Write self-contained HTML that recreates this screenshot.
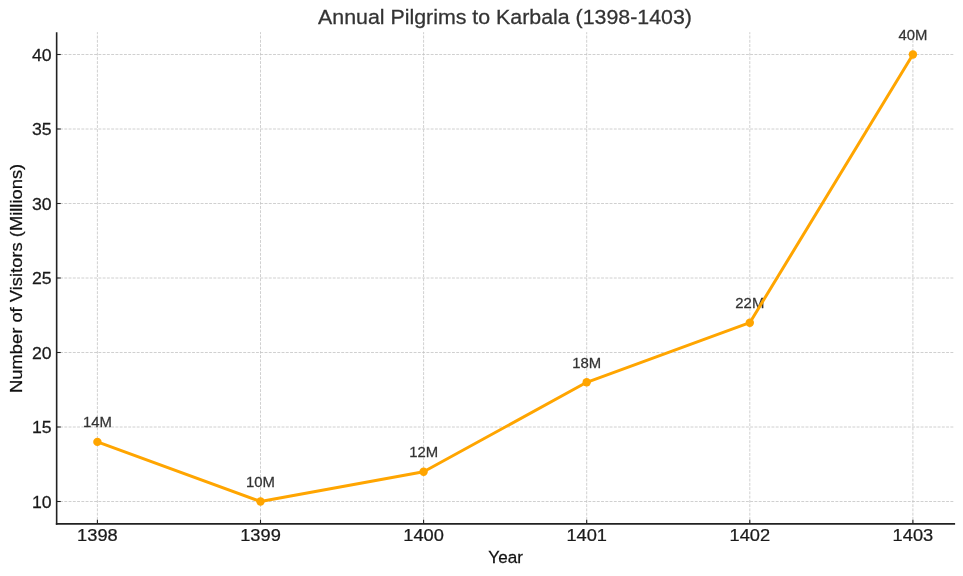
<!DOCTYPE html>
<html><head><meta charset="utf-8"><style>
html,body{margin:0;padding:0;background:#fff;width:963px;height:576px;overflow:hidden}
svg{display:block;will-change:transform}
text{font-family:"Liberation Sans",sans-serif;stroke-width:0.25;paint-order:fill}
.g{stroke:#c0c0c0;stroke-width:0.75;stroke-dasharray:2.9 1.36;stroke-dashoffset:0.85}
.t{stroke:#222;stroke-width:1.1}
.s{stroke:#222;stroke-width:1.6}
.ln{fill:none;stroke:#FFA500;stroke-width:3.0;stroke-linejoin:round;stroke-linecap:round}
.tl{font-size:17px;fill:#1a1a1a;stroke:#1a1a1a}
.an{font-size:14.6px;fill:#333;stroke:#333}
.ti{font-size:19.9px;fill:#333;stroke:#333}
.xl{font-size:17.2px;fill:#111;stroke:#111}
.yl{font-size:16.6px;fill:#111;stroke:#111}
</style></head><body>
<svg width="963" height="576" viewBox="0 0 963 576">
<line x1="97.40" y1="32.15" x2="97.40" y2="523.85" class="g"/>
<line x1="260.50" y1="32.15" x2="260.50" y2="523.85" class="g"/>
<line x1="423.60" y1="32.15" x2="423.60" y2="523.85" class="g"/>
<line x1="586.70" y1="32.15" x2="586.70" y2="523.85" class="g"/>
<line x1="749.80" y1="32.15" x2="749.80" y2="523.85" class="g"/>
<line x1="912.90" y1="32.15" x2="912.90" y2="523.85" class="g"/>
<line x1="56.65" y1="501.50" x2="953.6" y2="501.50" class="g"/>
<line x1="56.65" y1="427.00" x2="953.6" y2="427.00" class="g"/>
<line x1="56.65" y1="352.50" x2="953.6" y2="352.50" class="g"/>
<line x1="56.65" y1="278.00" x2="953.6" y2="278.00" class="g"/>
<line x1="56.65" y1="203.50" x2="953.6" y2="203.50" class="g"/>
<line x1="56.65" y1="129.00" x2="953.6" y2="129.00" class="g"/>
<line x1="56.65" y1="54.50" x2="953.6" y2="54.50" class="g"/>
<line x1="97.40" y1="523.85" x2="97.40" y2="519.75" class="t"/>
<text transform="translate(97.40,541.2) scale(1.075,1)" class="tl" text-anchor="middle">1398</text>
<line x1="260.50" y1="523.85" x2="260.50" y2="519.75" class="t"/>
<text transform="translate(260.50,541.2) scale(1.075,1)" class="tl" text-anchor="middle">1399</text>
<line x1="423.60" y1="523.85" x2="423.60" y2="519.75" class="t"/>
<text transform="translate(423.60,541.2) scale(1.075,1)" class="tl" text-anchor="middle">1400</text>
<line x1="586.70" y1="523.85" x2="586.70" y2="519.75" class="t"/>
<text transform="translate(586.70,541.2) scale(1.075,1)" class="tl" text-anchor="middle">1401</text>
<line x1="749.80" y1="523.85" x2="749.80" y2="519.75" class="t"/>
<text transform="translate(749.80,541.2) scale(1.075,1)" class="tl" text-anchor="middle">1402</text>
<line x1="912.90" y1="523.85" x2="912.90" y2="519.75" class="t"/>
<text transform="translate(912.90,541.2) scale(1.075,1)" class="tl" text-anchor="middle">1403</text>
<line x1="56.65" y1="501.50" x2="60.75" y2="501.50" class="t"/>
<text transform="translate(51.7,507.70) scale(1.04,1)" class="tl" text-anchor="end">10</text>
<line x1="56.65" y1="427.00" x2="60.75" y2="427.00" class="t"/>
<text transform="translate(51.7,433.20) scale(1.04,1)" class="tl" text-anchor="end">15</text>
<line x1="56.65" y1="352.50" x2="60.75" y2="352.50" class="t"/>
<text transform="translate(51.7,358.70) scale(1.04,1)" class="tl" text-anchor="end">20</text>
<line x1="56.65" y1="278.00" x2="60.75" y2="278.00" class="t"/>
<text transform="translate(51.7,284.20) scale(1.04,1)" class="tl" text-anchor="end">25</text>
<line x1="56.65" y1="203.50" x2="60.75" y2="203.50" class="t"/>
<text transform="translate(51.7,209.70) scale(1.04,1)" class="tl" text-anchor="end">30</text>
<line x1="56.65" y1="129.00" x2="60.75" y2="129.00" class="t"/>
<text transform="translate(51.7,135.20) scale(1.04,1)" class="tl" text-anchor="end">35</text>
<line x1="56.65" y1="54.50" x2="60.75" y2="54.50" class="t"/>
<text transform="translate(51.7,60.70) scale(1.04,1)" class="tl" text-anchor="end">40</text>
<line x1="56.65" y1="32.15" x2="56.65" y2="524.65" class="s"/>
<line x1="55.85" y1="523.85" x2="955.1" y2="523.85" class="s"/>
<text transform="translate(97.40,427.20) scale(1.02,1)" class="an" text-anchor="middle">14M</text>
<text transform="translate(260.50,486.80) scale(1.02,1)" class="an" text-anchor="middle">10M</text>
<text transform="translate(423.60,457.00) scale(1.02,1)" class="an" text-anchor="middle">12M</text>
<text transform="translate(586.70,367.60) scale(1.02,1)" class="an" text-anchor="middle">18M</text>
<text transform="translate(749.80,308.00) scale(1.02,1)" class="an" text-anchor="middle">22M</text>
<text transform="translate(912.90,39.80) scale(1.02,1)" class="an" text-anchor="middle">40M</text>
<polyline points="97.40,441.90 260.50,501.50 423.60,471.70 586.70,382.30 749.80,322.70 912.90,54.50" class="ln"/>
<circle cx="97.40" cy="441.90" r="4.2" fill="#FFA500"/>
<circle cx="260.50" cy="501.50" r="4.2" fill="#FFA500"/>
<circle cx="423.60" cy="471.70" r="4.2" fill="#FFA500"/>
<circle cx="586.70" cy="382.30" r="4.2" fill="#FFA500"/>
<circle cx="749.80" cy="322.70" r="4.2" fill="#FFA500"/>
<circle cx="912.90" cy="54.50" r="4.2" fill="#FFA500"/>
<text transform="translate(505.0,23.9) scale(1.074,1)" class="ti" text-anchor="middle">Annual Pilgrims to Karbala (1398-1403)</text>
<text transform="translate(505.6,562.7) scale(0.995,1)" class="xl" text-anchor="middle">Year</text>
<text transform="translate(22.3,278.4) rotate(-90) scale(1.106,1)" class="yl" text-anchor="middle">Number of Visitors (Millions)</text>
</svg>
</body></html>
